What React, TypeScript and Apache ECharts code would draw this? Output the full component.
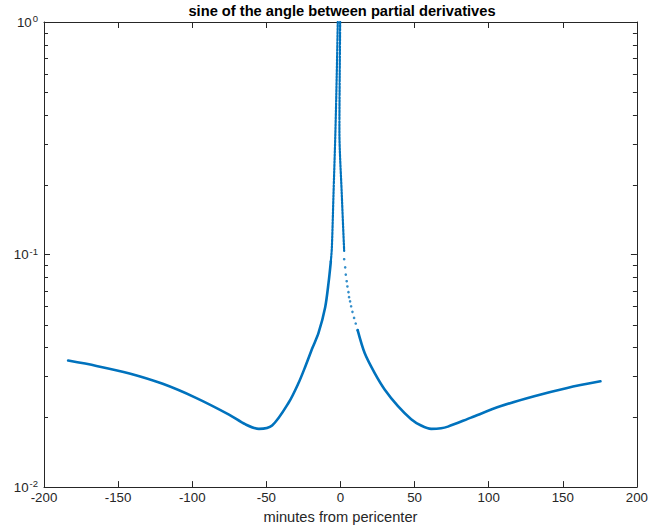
import React, { useEffect, useRef } from 'react';
import * as echarts from 'echarts';

// Left branch (dense part), minutes from pericenter vs sine
const leftX = [-183.7, -164.6, -142.3, -119.9, -97.5, -75.2, -64.0, -55.0, -46.1, -34.9, -28.2, -23.7, -18.8, -14.8, -10.3, -8.0, -6.5];
const leftY = [0.0350, 0.0332, 0.0308, 0.0278, 0.0242, 0.0205, 0.0186, 0.0178, 0.0184, 0.0231, 0.0281, 0.0330, 0.0398, 0.0460, 0.0594, 0.0759, 0.0933];

// Left strand of the spike
const leftSpikeX = [-6.5, -5.8, -4.7, -3.4, -2.5, -1.8];
const leftSpikeY = [0.0933, 0.107, 0.181, 0.338, 0.595, 1.0];

// Right strand of the spike
const rightSpikeX = [-0.2, -0.5, -0.7, 0.9, 2.5];
const rightSpikeY = [1.0, 0.595, 0.341, 0.181, 0.1037];

// Sparse dots after the spike on the right
const rightDotsX = [2.5, 3.2, 3.6, 4.2, 4.7, 5.4, 5.8, 6.5, 7.2, 8.1, 9.2, 10.3, 11.6];
const rightDotsY = [0.0955, 0.0881, 0.0820, 0.0768, 0.0729, 0.0689, 0.0656, 0.0629, 0.0599, 0.0567, 0.0534, 0.0505, 0.0473];

// Right branch (dense part)
const rightX = [11.6, 16.4, 23.1, 29.8, 38.8, 47.7, 54.4, 61.2, 67.9, 72.5, 88.1, 108.3, 130.7, 153.0, 175.4];
const rightY = [0.0473, 0.0376, 0.0309, 0.0263, 0.0223, 0.0196, 0.0184, 0.0178, 0.0179, 0.0182, 0.0199, 0.0223, 0.0246, 0.0267, 0.0285];

const xTicks = { min: -200, max: 200, interval: 50 };
const minorY = [0.02, 0.03, 0.04, 0.05, 0.06, 0.07, 0.08, 0.09, 0.2, 0.3, 0.4, 0.5, 0.6, 0.7, 0.8, 0.9];

const titleText = 'sine of the angle between partial derivatives';
const xName = 'minutes from pericenter';

const BLUE = '#0072BD';
const AX = '#262626';
const FONT = "'Liberation Sans', Arial, Helvetica, sans-serif";

const zip = (xs: number[], ys: number[]) => xs.map((x, i) => [x, ys[i]]);

export default function App() {
  const ref = useRef<HTMLDivElement>(null);
  useEffect(() => {
    document.body.style.margin = '0';
    const chart = echarts.init(ref.current!, null, { renderer: 'svg' });
    const lineSeries = (name: string, data: number[][], dashed = false) => ({
      name,
      type: 'line',
      data,
      smooth: 0.3,
      showSymbol: false,
      symbol: 'none',
      lineStyle: { color: BLUE, width: dashed ? 2.2 : 2.6, type: dashed ? [2, 1.4] : 'solid', cap: 'round' },
      z: 3,
    });
    const xBase = {
      type: 'value',
      min: xTicks.min,
      max: xTicks.max,
      interval: xTicks.interval,
      splitLine: { show: false },
      axisLine: { show: true, onZero: false, lineStyle: { color: AX, width: 1 } },
      axisTick: { show: true, inside: true, length: 6, lineStyle: { color: AX } },
    };
    const yBase = {
      type: 'log',
      logBase: 10,
      min: 0.01,
      max: 1,
      interval: 1,
      splitLine: { show: false },
      axisLine: { show: true, onZero: false, lineStyle: { color: AX, width: 1 } },
      axisTick: { show: true, inside: true, length: 6, lineStyle: { color: AX } },
    };
    chart.setOption({
      animation: false,
      backgroundColor: '#ffffff',
      title: {
        text: titleText,
        left: 342,
        top: 3,
        padding: 0,
        textAlign: 'center',
        textStyle: { fontFamily: FONT, fontSize: 14.67, fontWeight: 'bold', color: '#000' },
      },
      grid: { left: 44, right: 11, top: 22, bottom: 37, containLabel: false },
      xAxis: [
        {
          ...xBase,
          position: 'bottom',
          name: xName,
          nameLocation: 'middle',
          nameGap: 17,
          nameTextStyle: { fontFamily: FONT, fontSize: 14.67, color: AX },
          axisLabel: { fontFamily: FONT, fontSize: 13.3, color: AX, margin: 4 },
        },
        { ...xBase, position: 'top', axisLabel: { show: false } },
      ],
      yAxis: [
        {
          ...yBase,
          position: 'left',
          axisLabel: {
            margin: 6,
            formatter: (v: number) => '{b|10}{s|' + Math.round(Math.log10(v)) + '}',
            rich: {
              b: { fontFamily: FONT, fontSize: 13.3, color: AX },
              s: { fontFamily: FONT, fontSize: 9.5, color: AX, padding: [0, 0, 7, 1] },
            },
          },
        },
        { ...yBase, position: 'right', axisLabel: { show: false } },
      ],
      series: [
        lineSeries('left', zip(leftX, leftY)),
        lineSeries('leftSpike', zip(leftSpikeX, leftSpikeY), true),
        lineSeries('rightSpike', zip(rightSpikeX, rightSpikeY), true),
        {
          name: 'rightDots',
          type: 'scatter',
          data: zip(rightDotsX, rightDotsY),
          symbol: 'circle',
          symbolSize: 2.6,
          itemStyle: { color: BLUE },
          z: 3,
        },
        lineSeries('right', zip(rightX, rightY)),
      ],
    });
    // minor log ticks on left and right axes
    const xl = chart.convertToPixel({ xAxisIndex: 0 }, xTicks.min) as number;
    const xr = chart.convertToPixel({ xAxisIndex: 0 }, xTicks.max) as number;
    const elems: any[] = [];
    minorY.forEach((v) => {
      const py = Math.round(chart.convertToPixel({ yAxisIndex: 0 }, v) as number) + 0.5;
      elems.push({ type: 'line', silent: true, shape: { x1: xl, y1: py, x2: xl + 4, y2: py }, style: { stroke: AX, lineWidth: 1 } });
      elems.push({ type: 'line', silent: true, shape: { x1: xr - 4, y1: py, x2: xr, y2: py }, style: { stroke: AX, lineWidth: 1 } });
    });
    chart.setOption({ graphic: elems });
    return () => chart.dispose();
  }, []);
  return <div ref={ref} style={{ width: 651, height: 529 }} />;
}
